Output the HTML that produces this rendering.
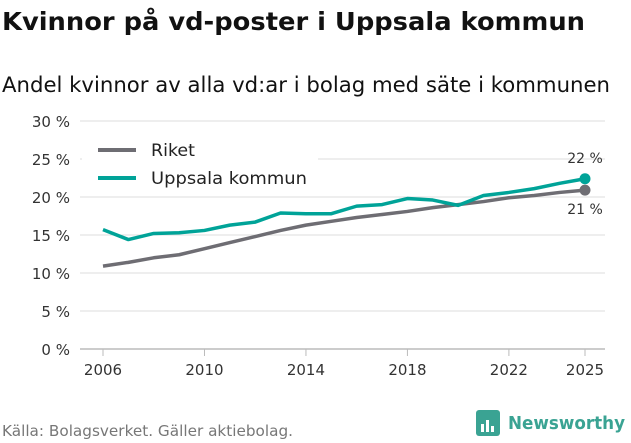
<!DOCTYPE html>
<html><head><meta charset="utf-8"><style>
body{margin:0;background:#fff;font-family:"DejaVu Sans","Liberation Sans",sans-serif;}
svg text{font-family:"DejaVu Sans","Liberation Sans",sans-serif;}
</style></head><body>
<svg width="631" height="439" viewBox="0 0 631 439">
<text x="2" y="30" font-size="25" font-weight="bold" fill="#111" textLength="583" lengthAdjust="spacingAndGlyphs">Kvinnor på vd-poster i Uppsala kommun</text>
<text x="2" y="92" font-size="21" fill="#111" textLength="608" lengthAdjust="spacingAndGlyphs">Andel kvinnor av alla vd:ar i bolag med säte i kommunen</text>
<g id="grid"></g><g id="legend"></g><g id="lines"></g>
<text x="2" y="436" font-size="15" fill="#777" textLength="291" lengthAdjust="spacingAndGlyphs">Källa: Bolagsverket. Gäller aktiebolag.</text>
<g>
<rect x="476" y="410" width="24" height="26" rx="3" fill="#3aa393"/>
<rect x="481" y="424" width="3" height="8" fill="#fff"/><rect x="486" y="420" width="3" height="12" fill="#fff"/><rect x="491" y="426" width="3" height="6" fill="#fff"/>
<text x="508" y="429" font-size="18" font-weight="bold" fill="#3aa393" textLength="117" lengthAdjust="spacingAndGlyphs">Newsworthy</text>
</g>
</svg>
<script>
const years=[2006,2007,2008,2009,2010,2011,2012,2013,2014,2015,2016,2017,2018,2019,2020,2021,2022,2023,2024,2025];
const riket=[10.9,11.4,12.0,12.4,13.2,14.0,14.8,15.6,16.3,16.8,17.3,17.7,18.1,18.6,19.0,19.4,19.9,20.2,20.6,20.9];
const uppsala=[15.7,14.4,15.2,15.3,15.6,16.3,16.7,17.9,17.8,17.8,18.8,19.0,19.8,19.6,18.9,20.2,20.6,21.1,21.8,22.4];
const yTicks=[0,5,10,15,20,25,30];
const xTicks=[2006,2010,2014,2018,2022,2025];
const NS="http://www.w3.org/2000/svg";
const X=v=>103+(v-2006)*(585-103)/19;
const Y=v=>349-v*7.6;
function mk(tag,attrs,parent,txt){const e=document.createElementNS(NS,tag);for(const k in attrs)e.setAttribute(k,attrs[k]);if(txt!==undefined)e.textContent=txt;parent.appendChild(e);return e;}
const grid=document.getElementById('grid');
yTicks.forEach(t=>{
 const l=mk('line',{x1:80,x2:605,y1:Y(t),y2:Y(t),stroke:t===0?'#bbb':'#ddd','stroke-width':t===0?1.5:1},grid);
 
 
 const tx=mk('text',{x:70,y:Y(t)+6,'text-anchor':'end','font-size':15,fill:'#333'},grid,t+' %');
 
 
});
xTicks.forEach(t=>{
 const l=mk('line',{x1:X(t),x2:X(t),y1:349,y2:356,stroke:'#bbb'},grid);
 
 
 const tx=mk('text',{x:X(t),y:375,'text-anchor':'middle','font-size':15,fill:'#333'},grid,t);
 
 
});
const lg=document.getElementById('legend');
mk('rect',{x:82,y:134,width:236,height:56,fill:'#fff'},lg);
[['Riket','#6e6d73',150,44],['Uppsala kommun','#00a398',178,156]].forEach(([n,c,y,w])=>{
 const g=mk('g',{},lg);
 
 
 mk('line',{x1:98,x2:136,y1:y,y2:y,stroke:c,'stroke-width':4},g);
 mk('text',{x:151,y:y+6,'font-size':17,fill:'#222',textLength:w,lengthAdjust:'spacingAndGlyphs'},g,n);
});
const lines=document.getElementById('lines');
function series(vals,c,name){
 const p=mk('polyline',{points:vals.map((v,i)=>X(years[i])+','+Y(v)).join(' '),fill:'none',stroke:c,'stroke-width':3.5,'stroke-linejoin':'round'},lines);
 
 
 const n=vals.length-1;
 const d=mk('circle',{cx:X(years[n]),cy:Y(vals[n]),r:5.5,fill:c},lines);
 
 
 return n;
}
series(riket,'#6e6d73','riket');
const n=series(uppsala,'#00a398','uppsala');
const a=mk('text',{x:X(years[n]),y:Y(uppsala[n])-16,'text-anchor':'middle','font-size':14,fill:'#333'},lines,Math.round(uppsala[n])+' %');


const b=mk('text',{x:X(years[n]),y:Y(riket[n])+24,'text-anchor':'middle','font-size':14,fill:'#333'},lines,Math.round(riket[n])+' %');


</script>
</body></html>
